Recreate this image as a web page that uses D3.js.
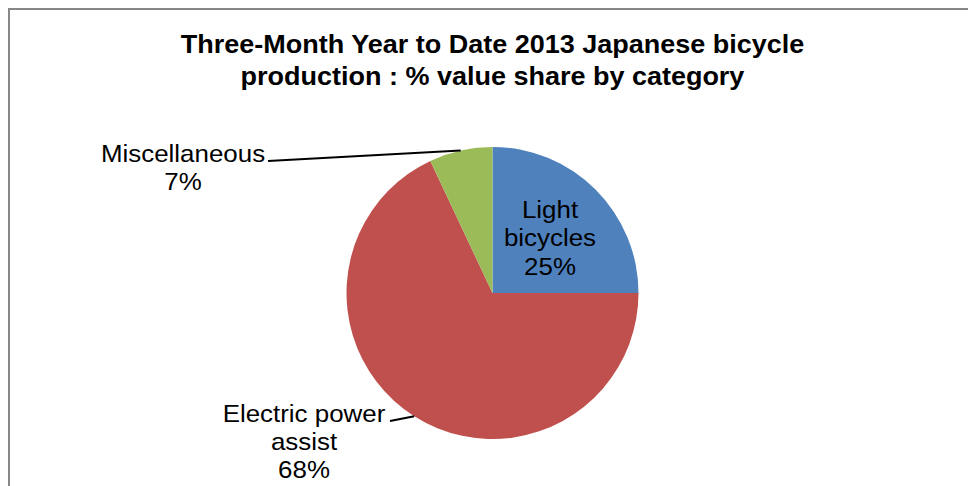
<!DOCTYPE html>
<html>
<head>
<meta charset="utf-8">
<script src="https://cdn.jsdelivr.net/npm/d3@7"></script>
<style>
  html, body { margin: 0; padding: 0; background: #ffffff; }
  svg { display: block; }
  text { font-family: "Liberation Sans", Arial, sans-serif; fill: #000; }
</style>
</head>
<body>
<svg id="chart" width="968" height="486"></svg>
<script>
// ---- data ----
const titleLines = ["Three-Month Year to Date 2013 Japanese bicycle", "production : % value share by category"];
const categories = ["Light bicycles", "Electric power assist", "Miscellaneous"];
const values = [25, 68, 7];
const labelLines = [["Light", "bicycles", "25%"], ["Electric power", "assist", "68%"], ["Miscellaneous", "7%"]];
const colors = ["#4F81BD", "#C0504D", "#9BBB59"];

// ---- layout ----
const W = 968, H = 486;
const cx = 492.5, cy = 293, R = 146;
const stretch = 1.08;
const labelLayout = [
  { x: 550, y: 218, leader: null },
  { x: 304, y: 421.5, leader: [390, 421] },
  { x: 183, y: 162, leader: [268, 161] }
];

const svg = d3.select("#chart");

// frame
svg.append("rect")
  .attr("x", 9).attr("y", 9)
  .attr("width", W + 20).attr("height", H + 20)
  .attr("fill", "#fff")
  .attr("stroke", "#878787")
  .attr("stroke-width", 2);

// title
const title = svg.append("g").attr("transform", `translate(${cx},0) scale(${stretch},1)`);
title.selectAll("text").data(titleLines).join("text")
  .attr("x", 0)
  .attr("y", (d, i) => 53 + i * 32)
  .attr("text-anchor", "middle")
  .attr("font-size", 25)
  .attr("font-weight", "bold")
  .text(d => d);

// pie
const pie = d3.pie().sort(null).value(d => d)(values);
const arc = d3.arc().innerRadius(0).outerRadius(R);
const edgeArc = d3.arc().innerRadius(R).outerRadius(R);

const g = svg.append("g").attr("transform", `translate(${cx},${cy})`);
g.selectAll("path").data(pie).join("path")
  .attr("d", arc)
  .attr("fill", (d, i) => colors[i]);

// leader lines
pie.forEach((p, i) => {
  const L = labelLayout[i];
  if (!L.leader) return;
  const mid = (p.startAngle + p.endAngle) / 2;
  const ex = cx + R * Math.sin(mid), ey = cy - R * Math.cos(mid);
  svg.append("line")
    .attr("x1", L.leader[0]).attr("y1", L.leader[1])
    .attr("x2", ex).attr("y2", ey)
    .attr("stroke", "#000").attr("stroke-width", 2);
});

// labels
labelLines.forEach((lines, i) => {
  const L = labelLayout[i];
  const lg = svg.append("g").attr("transform", `translate(${L.x},${L.y}) scale(${stretch},1)`);
  lg.selectAll("text").data(lines).join("text")
    .attr("x", 0)
    .attr("y", (d, j) => j * 28.5)
    .attr("text-anchor", "middle")
    .attr("font-size", 24)
    .text(d => d);
});
</script>
</body>
</html>
